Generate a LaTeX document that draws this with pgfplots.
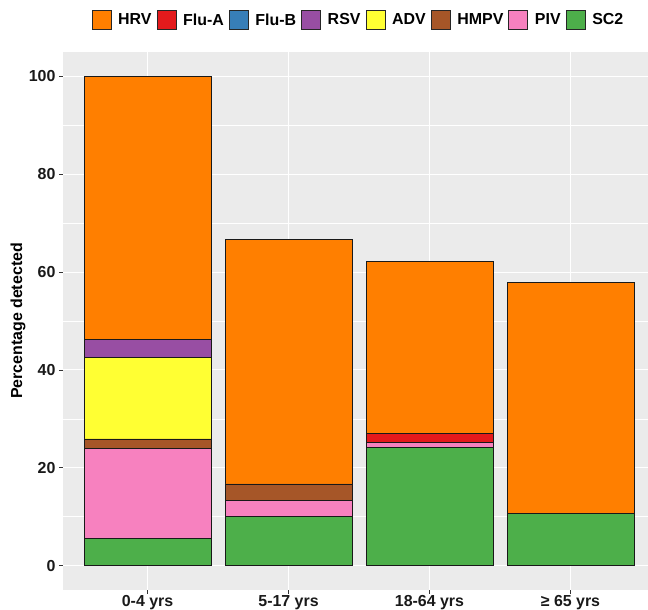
\documentclass[border=0pt]{standalone}
\usepackage{fontspec}
\setmainfont{Liberation Sans}
\usepackage{pgfplots}
\pgfplotsset{compat=1.18}
\definecolor{panel}{HTML}{EBEBEB}
\definecolor{cHRV}{HTML}{FF7F00}
\definecolor{cFluA}{HTML}{E41A1C}
\definecolor{cFluB}{HTML}{377EB8}
\definecolor{cRSV}{HTML}{984EA3}
\definecolor{cADV}{HTML}{FFFF33}
\definecolor{cHMPV}{HTML}{A65628}
\definecolor{cPIV}{HTML}{F781BF}
\definecolor{cSC2}{HTML}{4DAF4A}
\begin{document}
\begin{tikzpicture}
\useasboundingbox (-63bp,-20bp) rectangle (585bp,590bp);
\begin{axis}[
  at={(0,0)}, anchor=south west,
  scale only axis, width=585bp, height=538bp,
  xmin=-0.6, xmax=3.55, ymin=-5, ymax=105,
  ybar stacked, bar width=0.9,
  axis line style={draw=none},
  axis background/.style={fill=panel},
  xtick={0,1,2,3},
  xticklabels={0-4 yrs,5-17 yrs,18-64 yrs,≥ 65 yrs},
  ytick={0,20,40,60,80,100},
  minor ytick={10,30,50,70,90},
  grid=both,
  major grid style={white, line width=1.1bp},
  minor grid style={white, line width=0.55bp},
  tick align=outside,
  tick pos=left,
  major tick length=4bp,
  minor tick length=0bp,
  tick style={color=black!80, line width=0.6bp},
  /pgf/number format/assume math mode=true,
  ticklabel style={font=\bfseries\fontsize{16}{16}\selectfont, text=black!90},
  xticklabel style={yshift=2bp},
  ylabel={Percentage detected},
  y label style={at={(axis description cs:-0.077,0.5)}, anchor=center, font=\bfseries\fontsize{16}{16}\selectfont},
  legend columns=8,
  reverse legend,
  legend style={at={(0.505,1.0595)}, anchor=center, draw=none, fill=none,
    font=\bfseries\fontsize{16}{16}\selectfont,
    /tikz/every even column/.append style={column sep=3bp},
    /tikz/every odd column/.append style={column sep=5bp}},
  legend image code/.code={\draw[#1,draw=black!85,line width=0.6bp] (0bp,-9.5bp) rectangle (19bp,9.5bp);},
  every axis plot/.append style={draw=black!90, line width=0.7bp},
]
\addplot[fill=cSC2] coordinates {(0,5.5) (1,10.0) (2,24.2) (3,10.6)};
\addplot[fill=cPIV] coordinates {(0,18.4) (1,3.3) (2,0.9) (3,0)};
\addplot[fill=cHMPV] coordinates {(0,2.0) (1,3.4) (2,0) (3,0)};
\addplot[fill=cADV] coordinates {(0,16.6) (1,0) (2,0) (3,0)};
\addplot[fill=cRSV] coordinates {(0,3.7) (1,0) (2,0) (3,0)};
\addplot[fill=cFluB] coordinates {(0,0) (1,0) (2,0) (3,0)};
\addplot[fill=cFluA] coordinates {(0,0) (1,0) (2,2.0) (3,0)};
\addplot[fill=cHRV] coordinates {(0,53.8) (1,50.0) (2,35.1) (3,47.3)};
\legend{SC2,PIV,HMPV,ADV,RSV,Flu-B,Flu-A,HRV}
\end{axis}
\end{tikzpicture}
\end{document}
